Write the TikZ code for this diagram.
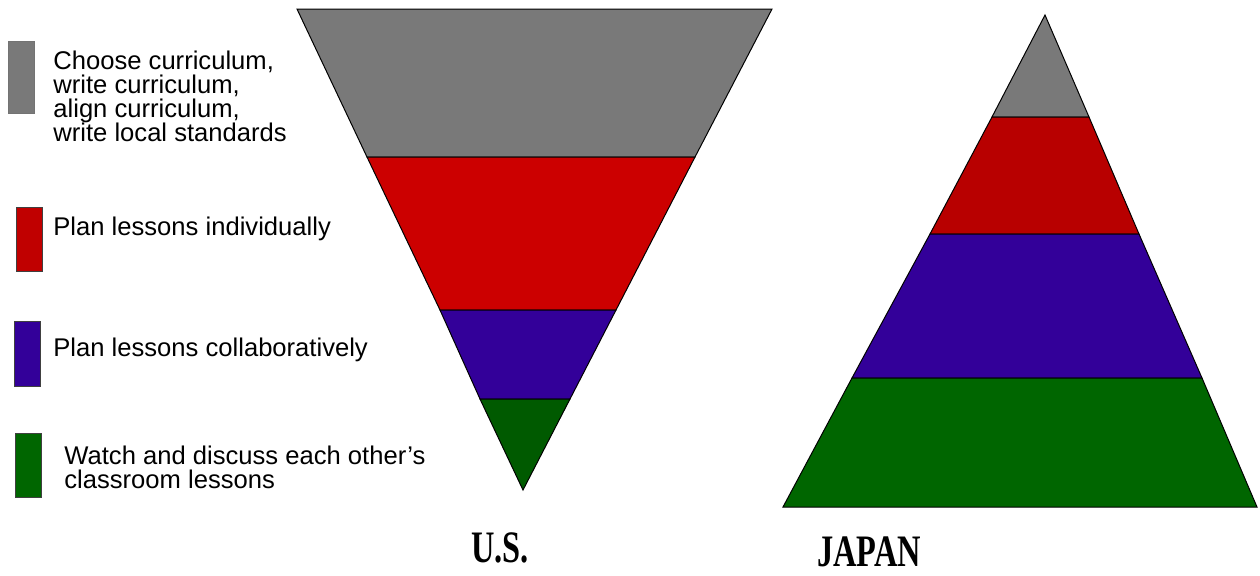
\documentclass[tikz,border=0pt]{standalone}
\usepackage{fontspec}
\usepackage{xcolor}
\newfontfamily\keyfont{Liberation Sans}
\newfontfamily\titlefont{Liberation Serif}[FakeStretch=0.72]
\definecolor{layergray}{HTML}{797979}
\definecolor{usred}{HTML}{CC0000}
\definecolor{jpred}{HTML}{B80000}
\definecolor{layerblue}{HTML}{330099}
\definecolor{usgreen}{HTML}{005A00}
\definecolor{jpgreen}{HTML}{006600}
\definecolor{keyred}{HTML}{C00000}

\begin{document}
\begin{tikzpicture}[
  x=0.5pt,
  y=-0.5pt,
  layer/.style={draw=black, line width=0.5pt, line join=miter},
  keybox/.style={draw=black!75, line width=0.5pt, inner sep=0pt,
                 minimum width=13pt, anchor=north west},
  keytext/.style={font=\keyfont\fontsize{12.8}{12}\selectfont, align=left,
                  inner sep=0pt, anchor=base west},
  title/.style={font=\titlefont\bfseries\fontsize{22.5}{24}\selectfont,
                inner sep=0pt, anchor=base}
]
  % ---- page frame ------------------------------------------------------
  \useasboundingbox (0,0) rectangle (1260,575);

  % ---- U.S. funnel, widest layer on top ---------------------------------
  \fill[layergray, layer] (297,9) -- (772,9) -- (695,157) -- (367,157) -- cycle;
  \fill[usred, layer] (367,157) -- (695,157) -- (616,310) -- (440,310) -- cycle;
  \fill[layerblue, layer] (440,310) -- (616,310) -- (570,399) -- (480,399) -- cycle;
  \fill[usgreen, layer] (480,399) -- (570,399) -- (523,490) -- cycle;

  % ---- Japan pyramid, widest layer at the foot --------------------------
  \fill[layergray, layer] (1045,15) -- (1089,117) -- (992,117) -- cycle;
  \fill[jpred, layer] (992,117) -- (1089,117) -- (1139,234) -- (930,234) -- cycle;
  \fill[layerblue, layer] (930,234) -- (1139,234) -- (1202,378) -- (852,378) -- cycle;
  \fill[jpgreen, layer] (852,378) -- (1202,378) -- (1257,507) -- (783,507) -- cycle;

  % ---- key -------------------------------------------------------------
  \node[keybox, fill=layergray, draw=black!55, minimum height=36pt] (key-gray) at (8,41) {};
  \node[keybox, fill=keyred, minimum height=32pt] (key-red) at (16,207) {};
  \node[keybox, fill=layerblue, minimum height=32.5pt] (key-blue) at (14,321) {};
  \node[keybox, fill=jpgreen, minimum height=32pt] (key-green) at (15,433) {};

  \node[keytext] (text-gray) at (53,69) {Choose curriculum,};
  \node[keytext] (text-gray2) at (53,93) {write curriculum,};
  \node[keytext] (text-gray3) at (53,117) {align curriculum,};
  \node[keytext] (text-gray4) at (53,141) {write local standards};
  \node[keytext] (text-red) at (53,235) {Plan lessons individually};
  \node[keytext] (text-blue) at (53,356) {Plan lessons collaboratively};
  \node[keytext] (text-green) at (64,464) {Watch and discuss each other’s};
  \node[keytext] (text-green2) at (64,488) {classroom lessons};

  % ---- country names ---------------------------------------------------
  \node[title] (us) at (500,562) {U.S.};
  \node[title] (japan) at (869,566) {JAPAN};

\end{tikzpicture}
\end{document}
